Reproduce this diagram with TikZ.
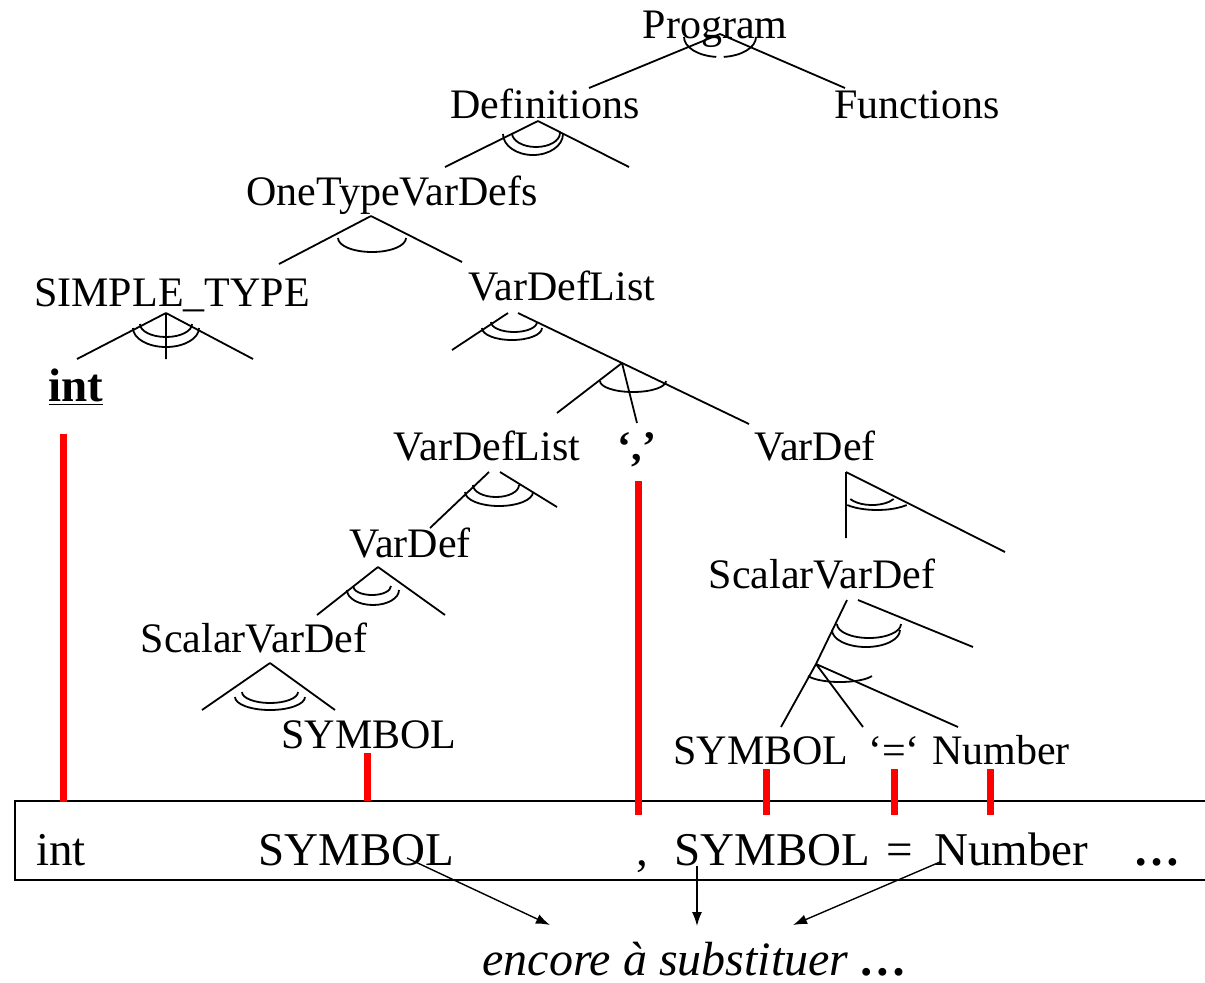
\documentclass[tikz,border=0pt]{standalone}
\usepackage{fontspec}
\setmainfont{Liberation Serif}
\usetikzlibrary{arrows.meta}
\tikzset{
x=0.5pt, y=-0.5pt, % one unit per pixel, y grows downwards
every node/.style={font=\fontsize{21}{25}\selectfont, inner sep=0pt, anchor=base}, % tree labels
branch/.style={line width=0.9pt}, % tree branches and their arcs
link/.style={red, line width=3.5pt}, % leaf -> input text marks
token/.style={font=\fontsize{23.5}{28}\selectfont, anchor=base west}, % the input line
>={Latex[length=7pt, width=5pt]},
}

\begin{document}
\begin{tikzpicture}
\useasboundingbox (0,0) rectangle (1205,982);

% tree labels
\node (prog) at (715,38) {Program};
\node (defs) at (545,118) {Definitions};
\node (funcs) at (917,118) {Functions};
\node (onetype) at (392,205) {OneTypeVarDefs};
\node (stype) at (172,306) {SIMPLE\_TYPE};
\node (vdl) at (562,300) {VarDefList};
\node[font=\fontsize{23.5}{28}\selectfont\bfseries] (int) at (76,401) {\underline{int}};
\node (vdl2) at (487,460) {VarDefList};
\node[font=\fontsize{21}{25}\selectfont\bfseries] (comma) at (637,460) {‘,’};
\node (vd) at (815,460) {VarDef};
\node (vd2) at (410,557) {VarDef};
\node (svd) at (822,588) {ScalarVarDef};
\node (svd2) at (254,652) {ScalarVarDef};
\node (sym) at (369,748) {SYMBOL};
\node (sym2) at (761,764) {SYMBOL};
\node (eq) at (894,764) {‘=‘};
\node (num) at (1001,764) {Number};

% branch points
\coordinate (p0) at (720,34);
\coordinate (p1) at (538,121);
\coordinate (p2) at (371,216);
\coordinate (p3) at (166,313);
\coordinate (p4) at (508,313);
\coordinate (p4r) at (518,313);
\coordinate (m) at (622,363);
\coordinate (p5) at (489,472);
\coordinate (p5r) at (500,472);
\coordinate (p6) at (378,567);
\coordinate (p7) at (270,663);
\coordinate (p8) at (846,472);
\coordinate (p9) at (847,600);
\coordinate (p9r) at (858,600);
\coordinate (s) at (816,664);

\draw[branch] (p0) -- ++(-131,54) (p0) -- ++(125,54);
\draw[branch] (p1) -- ++(-93,46) (p1) -- ++(91,46);
\draw[branch] (p2) -- ++(-92,48) (p2) -- ++(91,46);
\draw[branch] (p3) -- ++(-89,46) (p3) -- ++(0,46) (p3) -- ++(87,46);
\draw[branch] (p4) -- ++(-56,37) (p4r) -- ++(231,111);
\draw[branch] (m) -- ++(-65,50) (m) -- ++(15,60);
\draw[branch] (p5) -- ++(-59,56) (p5r) -- ++(57,35);
\draw[branch] (p6) -- ++(-61,48) (p6) -- ++(67,48);
\draw[branch] (p7) -- ++(-68,47) (p7) -- ++(65,47);
\draw[branch] (p8) -- ++(0,66) (p8) -- ++(159,80);
\draw[branch] (p9) -- (s) (p9r) -- ++(115,47);
\draw[branch] (s) -- ++(-35,63) (s) -- ++(47,63) (s) -- ++(142,63);

% arcs under the branch points
\draw[branch] (720,37) ++(180:36 and 20) arc[start angle=180, end angle=96, x radius=36, y radius=20];
\draw[branch] (720,37) ++(84:36 and 20) arc[start angle=84, end angle=0, x radius=36, y radius=20];
\draw[branch] (533,134) ++(180:30 and 21) arc[start angle=180, end angle=0, x radius=30, y radius=21];
\draw[branch] (536,133) ++(180:24 and 14) arc[start angle=180, end angle=0, x radius=24, y radius=14];
\draw[branch] (372,238) ++(180:34 and 14) arc[start angle=180, end angle=0, x radius=34, y radius=14];
\draw[branch] (166,328) ++(180:33 and 19) arc[start angle=180, end angle=0, x radius=33, y radius=19];
\draw[branch] (166,324) ++(180:26 and 13) arc[start angle=180, end angle=0, x radius=26, y radius=13];
\draw[branch] (512,328) ++(180:30 and 12) arc[start angle=180, end angle=0, x radius=30, y radius=12];
\draw[branch] (514,322) ++(180:23 and 10) arc[start angle=180, end angle=0, x radius=23, y radius=10];
\draw[branch] (633,381) ++(180:33 and 11) arc[start angle=180, end angle=0, x radius=33, y radius=11];
\draw[branch] (499,492) ++(180:34 and 14) arc[start angle=180, end angle=0, x radius=34, y radius=14];
\draw[branch] (496,485) ++(180:23 and 12) arc[start angle=180, end angle=0, x radius=23, y radius=12];
\draw[branch] (373,590) ++(180:26 and 15) arc[start angle=180, end angle=0, x radius=26, y radius=15];
\draw[branch] (372,586) ++(180:19 and 9) arc[start angle=180, end angle=0, x radius=19, y radius=9];
\draw[branch] (270,697) ++(180:35 and 13) arc[start angle=180, end angle=0, x radius=35, y radius=13];
\draw[branch] (270,692) ++(180:28 and 11) arc[start angle=180, end angle=0, x radius=28, y radius=11];
\draw[branch] (877,495) ++(138:40 and 15) arc[start angle=138, end angle=42, x radius=40, y radius=15];
\draw[branch] (872,493) ++(150:25 and 12) arc[start angle=150, end angle=30, x radius=25, y radius=12];
\draw[branch] (866,630) ++(180:34 and 17) arc[start angle=180, end angle=0, x radius=34, y radius=17];
\draw[branch] (869,624) ++(180:32 and 14) arc[start angle=180, end angle=0, x radius=32, y radius=14];
\draw[branch] (840,672) ++(156:35 and 10) arc[start angle=156, end angle=24, x radius=35, y radius=10];

% input line
\draw[line width=1pt] (1215,801) -- (15,801) -- (15,880) -- (1215,880);
\node[token] (tint) at (36,865) {int};
\node[token] (tsym) at (258,865) {SYMBOL};
\node[token] (tcomma) at (636,865) {,};
\node[token] (tsym2) at (674,865) {SYMBOL};
\node[token] (teq) at (886,865) {=};
\node[token] (tnum) at (934,865) {Number};
\node[token, font=\fontsize{23.5}{28}\selectfont\bfseries] (tdots) at (1133,865) {…};
\node[anchor=base west, font=\fontsize{24}{29}\selectfont\itshape] (todo) at (482,975) {encore à substituer \textbf{…}};

% leaves matched in the input
\draw[link] ([shift={(-13,33)}]int.base) -- ++(0,368);
\draw[link] ([shift={(-2,5)}]sym.base) -- ++(0,48);
\draw[link] ([shift={(1,21)}]comma.base) -- ++(0,334);
\draw[link] ([shift={(5,5)}]sym2.base) -- ++(0,46);
\draw[link] ([shift={(0,5)}]eq.base) -- ++(0,46);
\draw[link] ([shift={(-11,5)}]num.base) -- ++(0,46);

% still to be replaced
\draw[->, line width=0.7pt] ([shift={(149,-7)}]tsym.base west) -- ([shift={(68,-50)}]todo.base west);
\draw[->, line width=0.7pt] ([shift={(23,1)}]tsym2.base west) -- ([shift={(215,-49)}]todo.base west);
\draw[->, line width=0.7pt] ([shift={(6,-3)}]tnum.base west) -- ([shift={(311,-50)}]todo.base west);
\end{tikzpicture}
\end{document}
